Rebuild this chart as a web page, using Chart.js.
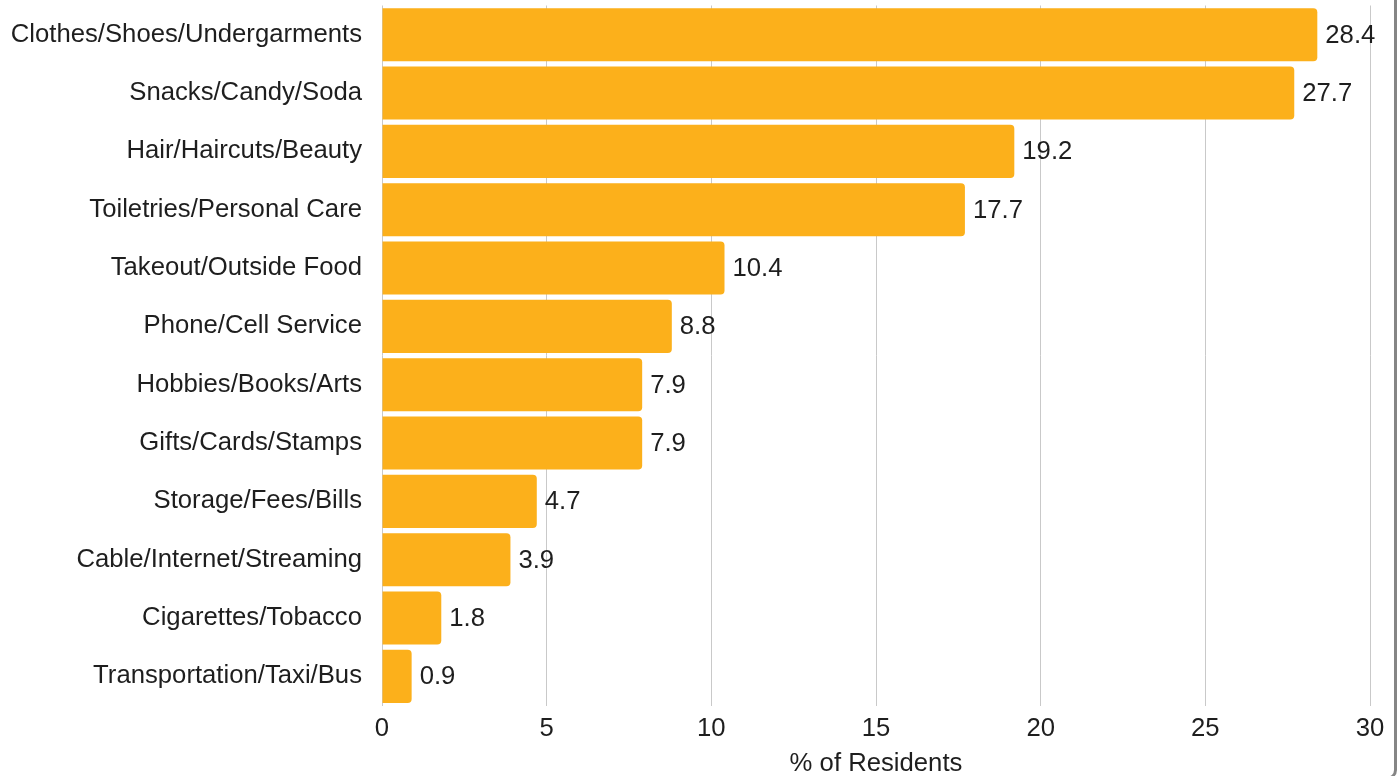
<!DOCTYPE html>
<html>
<head>
<meta charset="utf-8">
<script src="https://cdn.jsdelivr.net/npm/chart.js@4"></script>
<style>
  html, body { margin: 0; padding: 0; background: #ffffff; overflow: hidden; }
  #wrap { position: relative; width: 1398px; height: 776px; overflow: hidden; }
  #frame { position: absolute; left: -10px; top: -10px; width: 1407px; height: 790px;
           border-right: 3px solid #858585; border-bottom: 3px solid #858585;
           border-bottom-right-radius: 10px; box-sizing: border-box; pointer-events: none; }
  canvas { position: absolute; left: 0; top: 0; }
</style>
</head>
<body>
<div id="wrap">
  <canvas id="c" width="1392" height="790"></canvas>
  <div id="frame"></div>
</div>
<script>
const categories = [
  "Clothes/Shoes/Undergarments",
  "Snacks/Candy/Soda",
  "Hair/Haircuts/Beauty",
  "Toiletries/Personal Care",
  "Takeout/Outside Food",
  "Phone/Cell Service",
  "Hobbies/Books/Arts",
  "Gifts/Cards/Stamps",
  "Storage/Fees/Bills",
  "Cable/Internet/Streaming",
  "Cigarettes/Tobacco",
  "Transportation/Taxi/Bus"
];
const residentsPct = [28.4, 27.7, 19.2, 17.7, 10.4, 8.8, 7.9, 7.9, 4.7, 3.9, 1.8, 0.9];
const axisMin = 0;
const axisMax = 30;
const axisStep = 5;
const axisTitle = "% of Residents";

const FONT = "'Liberation Sans', Arial, sans-serif";
const FS = 25.7;
const TEXT = "#1e1e1e";

const valueLabels = {
  id: 'valueLabels',
  afterDatasetsDraw(chart) {
    const ctx = chart.ctx;
    const meta = chart.getDatasetMeta(0);
    ctx.save();
    ctx.font = FS + "px " + FONT;
    ctx.fillStyle = TEXT;
    ctx.textAlign = 'left';
    ctx.textBaseline = 'middle';
    meta.data.forEach((el, i) => {
      const v = chart.data.datasets[0].data[i];
      ctx.fillText(v.toFixed(1), el.x + 8, el.y + 1);
    });
    ctx.restore();
  }
};

new Chart(document.getElementById('c'), {
  type: 'bar',
  data: {
    labels: categories,
    datasets: [{
      data: residentsPct,
      backgroundColor: '#FCB01B',
      borderRadius: { topRight: 4, bottomRight: 4, topLeft: 0, bottomLeft: 0 },
      borderSkipped: false,
      barPercentage: 0.91,
      categoryPercentage: 1.0
    }]
  },
  options: {
    indexAxis: 'y',
    responsive: false,
    animation: false,
    devicePixelRatio: 1,
    layout: { padding: { top: 5.5, right: 22, left: 0, bottom: 0 } },
    plugins: { legend: { display: false }, tooltip: { enabled: false } },
    scales: {
      x: {
        min: axisMin, max: axisMax,
        ticks: { stepSize: axisStep, color: TEXT, font: { family: FONT, size: FS }, padding: 8, maxRotation: 0 },
        grid: { color: '#c9c9c9', lineWidth: 1, drawTicks: false },
        border: { display: false },
        title: { display: true, text: axisTitle, color: TEXT, font: { family: FONT, size: FS }, padding: { top: 0, bottom: 10.5 } },
        afterFit(scale) { scale.height = 790 - 705.5; scale.paddingLeft = 0; scale.paddingRight = 0; }
      },
      y: {
        ticks: { color: TEXT, font: { family: FONT, size: FS }, padding: 20 },
        grid: { display: false, drawTicks: false },
        border: { display: false },
        afterFit(scale) { scale.width = 382; scale.paddingTop = 0; scale.paddingBottom = 0; }
      }
    }
  },
  plugins: [valueLabels]
});
</script>
</body>
</html>
